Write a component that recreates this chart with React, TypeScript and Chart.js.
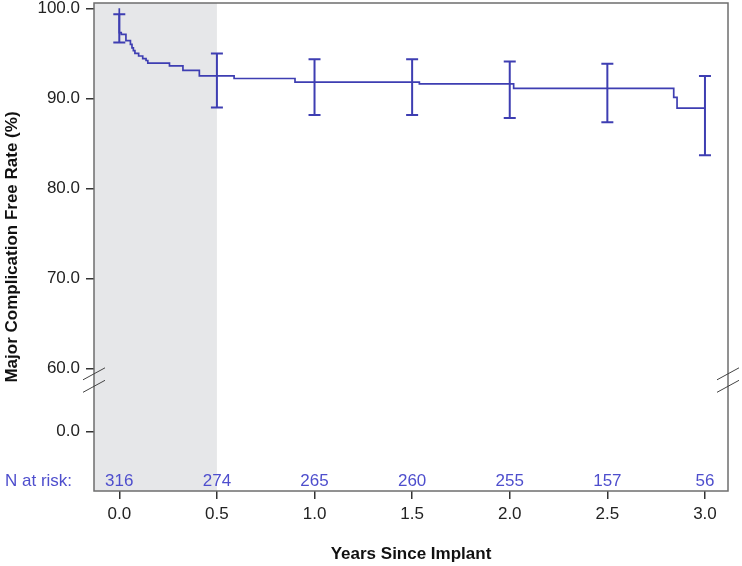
import React, { useEffect, useRef } from "react";
import { Chart, registerables } from "chart.js";

Chart.register(...registerables);

// ---- data ----
const kmTimes = [0, 0, 0.01, 0.034, 0.057, 0.065, 0.072, 0.08, 0.099, 0.12, 0.137, 0.146, 0.257, 0.326, 0.41, 0.588, 0.9, 1.537, 2.02, 2.84, 2.857, 3.0];
const kmValues = [100, 97.3, 97.1, 96.4, 96.0, 95.6, 95.3, 95.0, 94.7, 94.4, 94.2, 93.9, 93.6, 93.1, 92.5, 92.2, 91.8, 91.6, 91.1, 90.1, 88.9, 88.9];

const ciTimes = [0, 0.5, 1.0, 1.5, 2.0, 2.5, 3.0];
const ciUpper = [99.35, 94.97, 94.33, 94.33, 94.1, 93.85, 92.48];
const ciLower = [96.2, 88.97, 88.15, 88.15, 87.8, 87.33, 83.67];

const riskTimes = [0, 0.5, 1.0, 1.5, 2.0, 2.5, 3.0];
const riskCounts = [316, 274, 265, 260, 255, 157, 56];

const xTickValues = [0, 0.5, 1.0, 1.5, 2.0, 2.5, 3.0];
const yTickValues = [0, 60, 70, 80, 90, 100];
const shadeEnd = 0.5;

// axis break: values below 60 are drawn in a compressed band (0 sits at ZERO_POS)
const BREAK_AT = 60;
const ZERO_POS = 52.96;
const mapY = (v: number) => (v >= BREAK_AT ? v : ZERO_POS + (v / BREAK_AT) * (BREAK_AT - ZERO_POS));

const LINE_COLOR = "rgb(62,62,178)";
const RISK_COLOR = "rgb(78,78,205)";
const FONT = "'Liberation Sans', Arial, Helvetica, sans-serif";

export default function App() {
  const ref = useRef<HTMLCanvasElement | null>(null);

  useEffect(() => {
    if (!ref.current) return;

    const decorPlugin = {
      id: "decor",
      beforeDraw(chart: any) {
        const { ctx, chartArea, scales } = chart;
        const x = scales.x;
        ctx.save();
        ctx.fillStyle = "#e6e7e9";
        const xe = x.getPixelForValue(shadeEnd);
        ctx.fillRect(chartArea.left, chartArea.top, xe - chartArea.left, chartArea.bottom - chartArea.top);
        ctx.restore();
      },
      afterDatasetsDraw(chart: any) {
        const { ctx, chartArea, scales } = chart;
        const x = scales.x;
        const y = scales.y;
        ctx.save();
        // error bars
        ctx.strokeStyle = LINE_COLOR;
        ctx.lineWidth = 2;
        const cap = 6;
        ciTimes.forEach((t, i) => {
          const px = x.getPixelForValue(t);
          const yu = y.getPixelForValue(mapY(ciUpper[i]));
          const yl = y.getPixelForValue(mapY(ciLower[i]));
          ctx.beginPath();
          ctx.moveTo(px, yu);
          ctx.lineTo(px, yl);
          ctx.moveTo(px - cap, yu);
          ctx.lineTo(px + cap, yu);
          ctx.moveTo(px - cap, yl);
          ctx.lineTo(px + cap, yl);
          ctx.stroke();
        });
        // box
        ctx.strokeStyle = "#6e6e6e";
        ctx.lineWidth = 1.5;
        ctx.strokeRect(chartArea.left, chartArea.top, chartArea.right - chartArea.left, chartArea.bottom - chartArea.top);
        // break marks
        const yb = y.getPixelForValue(mapY(BREAK_AT));
        ctx.strokeStyle = "#444";
        ctx.lineWidth = 1;
        [chartArea.left, chartArea.right].forEach((ax) => {
          [5.5, 18].forEach((off) => {
            ctx.beginPath();
            ctx.moveTo(ax - 11, yb + off + 6);
            ctx.lineTo(ax + 11, yb + off - 6);
            ctx.stroke();
          });
        });
        // N at risk
        ctx.fillStyle = RISK_COLOR;
        ctx.font = `17px ${FONT}`;
        ctx.textBaseline = "middle";
        const ry = chartArea.bottom - 10;
        ctx.textAlign = "left";
        ctx.fillText("N at risk:", 5, ry);
        ctx.textAlign = "center";
        riskTimes.forEach((t, i) => {
          ctx.fillText(String(riskCounts[i]), x.getPixelForValue(t), ry);
        });
        ctx.restore();
      },
    };

    const chart = new Chart(ref.current, {
      type: "line",
      data: {
        datasets: [
          {
            data: kmTimes.map((t, i) => ({ x: t, y: mapY(kmValues[i]) })),
            borderColor: LINE_COLOR,
            borderWidth: 1.7,
            stepped: "before",
            pointRadius: 0,
            fill: false,
          },
        ],
      },
      options: {
        animation: false,
        responsive: false,
        maintainAspectRatio: false,
        layout: { padding: { left: 0, right: 14, top: 3, bottom: 0 } },
        plugins: { legend: { display: false }, tooltip: { enabled: false } },
        scales: {
          x: {
            type: "linear",
            min: -0.1296,
            max: 3.118,
            afterBuildTicks: (s: any) => {
              s.ticks = xTickValues.map((v) => ({ value: v }));
            },
            afterFit: (s: any) => {
              s.height = 75;
              s.paddingLeft = 0;
              s.paddingRight = 0;
            },
            grid: { drawOnChartArea: false, drawTicks: true, tickLength: 8, color: "#333", lineWidth: 1.5 },
            border: { display: false },
            ticks: {
              color: "#222",
              font: { family: FONT, size: 17 },
              padding: 5,
              maxRotation: 0,
              callback: (v: any) => Number(v).toFixed(1),
            },
            title: {
              display: true,
              text: "Years Since Implant",
              color: "#111",
              font: { family: FONT, size: 17, weight: "bold" },
              padding: { top: 0, bottom: 1 },
            },
          },
          y: {
            type: "linear",
            min: 46.37,
            max: 100.59,
            afterBuildTicks: (s: any) => {
              s.ticks = yTickValues.map((v) => ({ value: mapY(v) }));
            },
            afterFit: (s: any) => {
              s.width = 94;
              s.paddingTop = 0;
              s.paddingBottom = 0;
            },
            grid: { drawOnChartArea: false, drawTicks: true, tickLength: 8, color: "#333", lineWidth: 1.5 },
            border: { display: false },
            ticks: {
              color: "#222",
              font: { family: FONT, size: 17 },
              padding: 6,
              callback: (v: any) => {
                const idx = yTickValues.findIndex((t) => Math.abs(mapY(t) - Number(v)) < 0.01);
                return (idx >= 0 ? yTickValues[idx] : Number(v)).toFixed(1);
              },
            },
            title: {
              display: true,
              text: "Major Complication Free Rate (%)",
              color: "#111",
              font: { family: FONT, size: 17, weight: "bold" },
              padding: { top: 2, bottom: 0 },
            },
          },
        },
      },
      plugins: [decorPlugin],
    } as any);

    return () => chart.destroy();
  }, []);

  return (
    <div style={{ position: "absolute", left: 0, top: 0, width: 742, height: 566, background: "#fff" }}>
      <canvas ref={ref} width={742} height={566} style={{ width: 742, height: 566, display: "block" }} />
    </div>
  );
}
